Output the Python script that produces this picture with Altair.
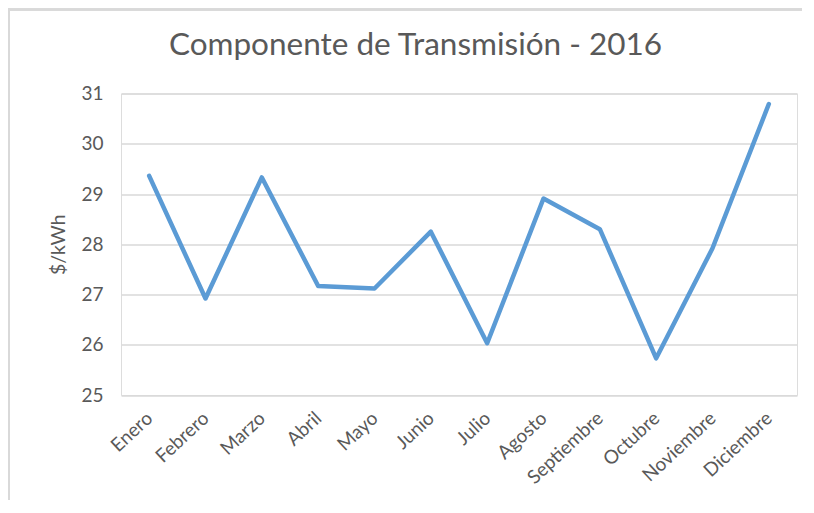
import altair as alt
import pandas as pd

months = ["Enero", "Febrero", "Marzo", "Abril", "Mayo", "Junio", "Julio",
          "Agosto", "Septiembre", "Octubre", "Noviembre", "Diciembre"]
values = [29.36, 26.92, 29.33, 27.17, 27.12, 28.25, 26.03, 28.91, 28.30, 25.73, 27.92, 30.79]
y_ticks = [25, 26, 27, 28, 29, 30, 31]
title_text = "Componente de Transmisión - 2016"

df = pd.DataFrame({"mes": months, "valor": values})

FONT = "Lato"
GREY = "#595959"

line = alt.Chart(df).mark_line(
    color="#5B9BD5", strokeWidth=4.5, strokeCap="round", strokeJoin="round"
).encode(
    x=alt.X("mes:N", sort=months, scale=alt.Scale(type="point", padding=0.5),
            axis=alt.Axis(title=None, labelAngle=-43, labelAlign="right", labelBaseline="middle",
                          labelPadding=20, ticks=False, domain=False, grid=False,
                          labelFont=FONT, labelFontSize=19, labelColor=GREY)),
    y=alt.Y("valor:Q", scale=alt.Scale(domain=[25, 31], nice=False, zero=False),
            axis=alt.Axis(title="$/kWh", values=y_ticks, ticks=False, domain=False,
                          grid=True, gridColor="#d9d9d9", gridWidth=1.4,
                          labelFont=FONT, labelFontSize=19, labelColor=GREY, labelPadding=18,
                          titleFont=FONT, titleFontSize=19.5, titleColor=GREY,
                          titleFontWeight="normal", titlePadding=12)),
)

frame_left = alt.Chart(df).mark_rule(color="#d9d9d9", strokeWidth=2).encode(
    x=alt.value(-112), y=alt.value(-90), y2=alt.value(420)
)
frame_top = alt.Chart(df).mark_rule(color="#d9d9d9", strokeWidth=2).encode(
    x=alt.value(-112), x2=alt.value(700), y=alt.value(-84)
)
title = alt.Chart(pd.DataFrame({"t": [title_text]})).mark_text(
    font=FONT, fontSize=31.5, color=GREY, align="center", baseline="alphabetic"
).encode(text="t:N", x=alt.value(294.5), y=alt.value(-38.5))

chart = alt.layer(frame_left, frame_top, line, title).properties(
    width=676,
    height=301.5,
    autosize="none",
    padding={"left": 113, "top": 85.5, "right": 5, "bottom": 105},
).configure_view(stroke=None).configure(background="white")

chart.save("out.html", embed_options={"renderer": "svg", "actions": False})
